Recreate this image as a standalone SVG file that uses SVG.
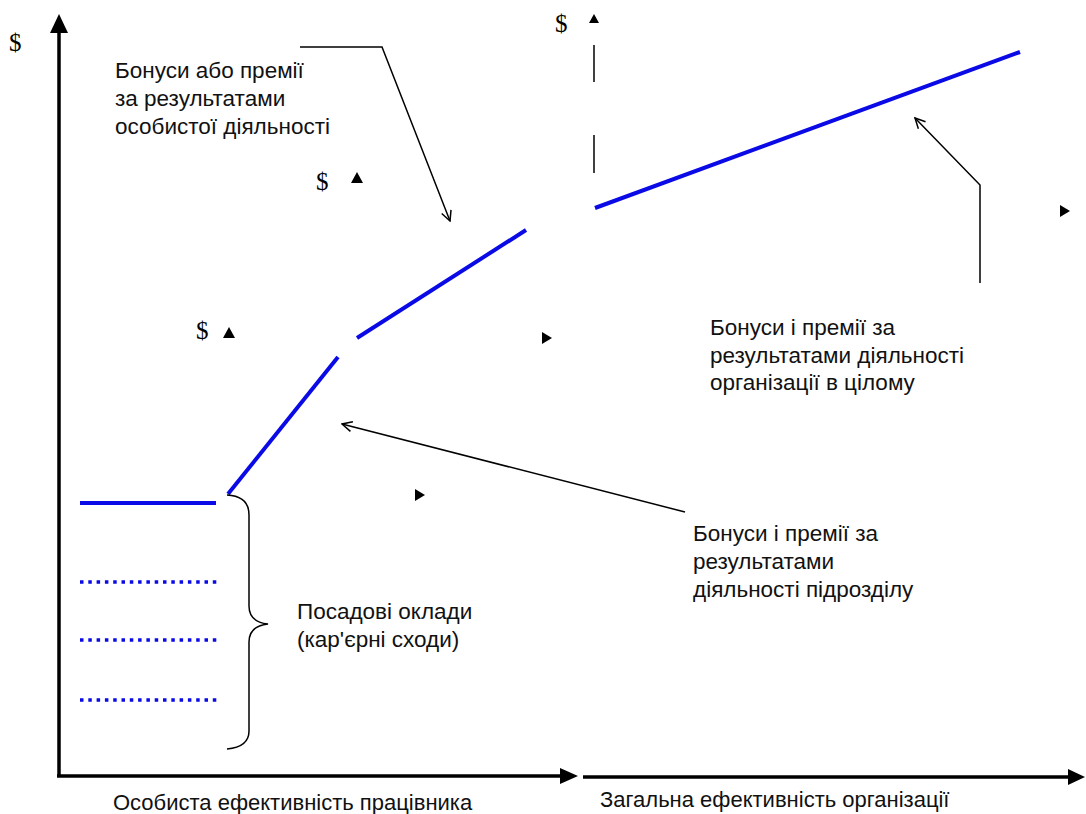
<svg xmlns="http://www.w3.org/2000/svg" width="1086" height="814" viewBox="0 0 1086 814">
<style>
text{font-family:"Liberation Sans",Arial,sans-serif;font-size:22.5px;fill:#111}
.ax-l{font-size:22px}
.blue{stroke:#0a0ae6;stroke-width:4;fill:none}
.dot{stroke:#0a0ae6;stroke-width:3.5;fill:none;stroke-dasharray:3.5 4.8}
.ax{stroke:#000;stroke-width:3.5;fill:none}
.thin{stroke:#000;stroke-width:1.5;fill:none}
.tri{fill:#000}
.dol{font-family:"Liberation Serif","DejaVu Serif",serif;font-size:25px;fill:#000}
</style>
<defs>
<marker id="open" viewBox="0 0 12 12" refX="11" refY="6" markerWidth="12" markerHeight="12" markerUnits="userSpaceOnUse" orient="auto">
<path d="M1,1 L11,6 L1,11" fill="none" stroke="#000" stroke-width="1.5"/>
</marker>
</defs>
<rect width="1086" height="814" fill="#fff"/>
<g id="axes">
<line class="ax" x1="59" y1="776" x2="59" y2="30"/>
<polygon class="tri" points="59,14 50,33 68,33"/>
<line class="ax" x1="57" y1="776" x2="562" y2="776"/>
<polygon class="tri" points="578,776 560,768 560,784"/>
<line class="ax" x1="583" y1="777" x2="1068" y2="777"/>
<polygon class="tri" points="1085,777 1068,769 1068,785"/>
<text class="dol" x="9" y="51">$</text>
</g>
<g id="salary-lines">
<line class="blue" x1="80" y1="503" x2="216" y2="503"/>
<line class="dot" x1="80" y1="582" x2="218" y2="582"/>
<line class="dot" x1="80" y1="640" x2="218" y2="640"/>
<line class="dot" x1="80" y1="700" x2="218" y2="700"/>
</g>
<g id="bonus-lines">
<line class="blue" x1="228" y1="494" x2="338" y2="357"/>
<line class="blue" x1="357" y1="338" x2="526" y2="230"/>
<line class="blue" x1="595" y1="208" x2="1020" y2="52"/>
</g>
<g id="markers">
<text class="dol" x="316" y="190">$</text>
<polygon class="tri" points="357,172 351,183 363,183"/>
<text class="dol" x="196" y="339">$</text>
<polygon class="tri" points="229,327 223,338 235,338"/>
<text class="dol" x="555" y="32">$</text>
<polygon class="tri" points="594,14 589,23 599,23"/>
<line class="thin" x1="594" y1="45" x2="594" y2="82"/>
<line class="thin" x1="594" y1="135" x2="594" y2="173"/>
<polygon class="tri" points="552,338 542,332 542,344"/>
<polygon class="tri" points="425,495 415,489 415,501"/>
<polygon class="tri" points="1070,211 1060,205 1060,217"/>
</g>
<g id="connectors">
<polyline class="thin" points="300,47 382,47 450,221" marker-end="url(#open)"/>
<polyline class="thin" points="980,283 980,185 915,118" marker-end="url(#open)"/>
<line class="thin" x1="685" y1="512" x2="342" y2="424" marker-end="url(#open)"/>
<path class="thin" d="M227,495 Q249,496 249,515 L249,606 Q249,622 268,624 Q249,626 249,642 L249,731 Q249,747 227,749"/>
</g>
<g id="label-personal">
<text x="115" y="78">Бонуси або премії</text>
<text x="115" y="106">за результатами</text>
<text x="115" y="134">особистої діяльності</text>
</g>
<g id="label-org">
<text x="710" y="335">Бонуси і премії за</text>
<text x="710" y="363">результатами діяльності</text>
<text x="710" y="390">організації в цілому</text>
</g>
<g id="label-unit">
<text x="693" y="541">Бонуси і премії за</text>
<text x="693" y="569">результатами</text>
<text x="693" y="597">діяльності підрозділу</text>
</g>
<g id="label-salary">
<text x="297" y="619">Посадові оклади</text>
<text x="297" y="647">(кар'єрні сходи)</text>
</g>
<g id="axis-labels">
<text class="ax-l" x="113" y="810">Особиста ефективність працівника</text>
<text class="ax-l" x="600" y="807">Загальна ефективність організації</text>
</g>
</svg>
